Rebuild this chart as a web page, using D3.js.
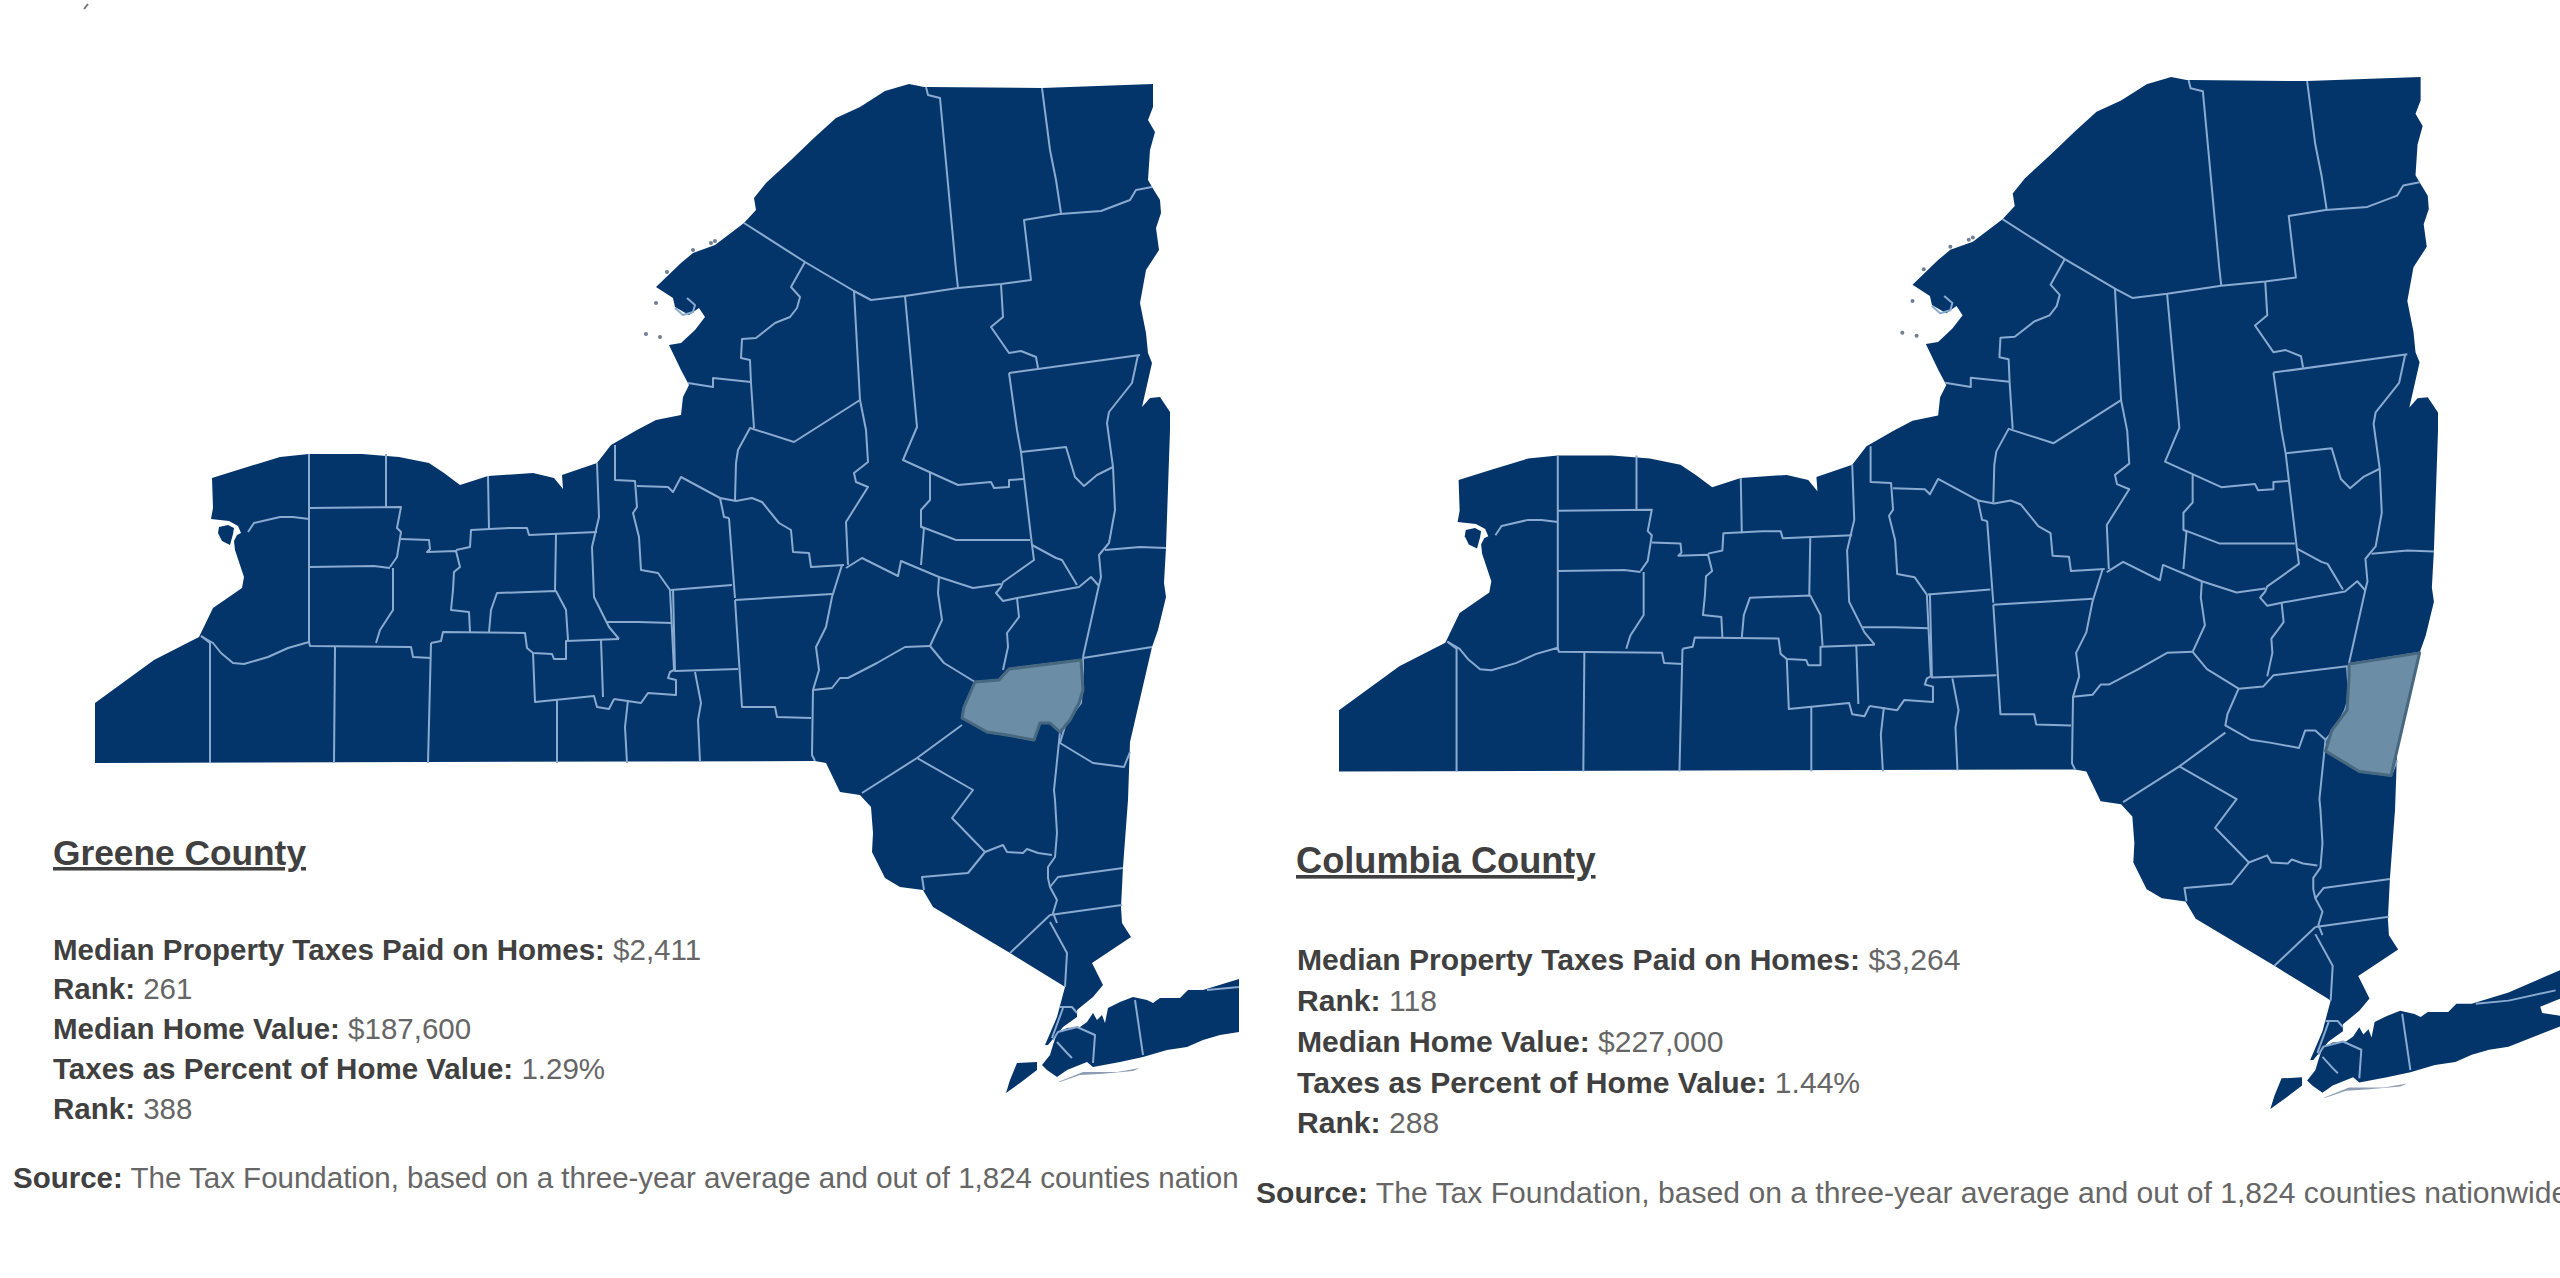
<!DOCTYPE html>
<html>
<head>
<meta charset="utf-8">
<script src="https://cdnjs.cloudflare.com/ajax/libs/d3/7.8.5/d3.min.js"></script>
<style>
    html, body { margin: 0; padding: 0; background: #fff; overflow: hidden; }
    text { font-family: "Liberation Sans", Arial, sans-serif; }
</style>
</head>
<body>
<div id="ny_tax_vis"></div>
<script>
// county names and figures, one entry per panel
const countyNames = ["Greene County", "Columbia County"];
const taxesPaid = ["$2,411", "$3,264"];
const taxRank = ["261", "118"];
const homeValue = ["$187,600", "$227,000"];
const taxPercent = ["1.29%", "1.44%"];
const percentRank = ["388", "288"];
const rowLabels = ["Median Property Taxes Paid on Homes:", "Rank:", "Median Home Value:", "Taxes as Percent of Home Value:", "Rank:"];
const sourceLabel = "Source:";
// the left picture cuts its source line off after "nation"
const sourceTexts = [
    " The Tax Foundation, based on a three-year average and out of 1,824 counties nation",
    " The Tax Foundation, based on a three-year average and out of 1,824 counties nationwide"
];

// traced map geometry, in map units
const mainland = [[656,287],[681,263],[693,253],[715,245],[744,223],[756,210],[754,198],[766,183],[791,160],[815,137],[836,118],[860,107],[885,91],[909,84],[924,87],[928,87],[1042,88],[1153,84],[1153,107],[1148,120],[1155,132],[1150,150],[1148,180],[1152,187],[1160,200],[1161,213],[1156,228],[1159,250],[1146,270],[1140,303],[1146,333],[1148,353],[1152,363],[1142,407],[1150,398],[1160,397],[1170,412],[1170,430],[1166,547],[1164,583],[1166,597],[1158,630],[1152,647],[1130,742],[1128,800],[1123,867],[1121,907],[1122,923],[1131,937],[1092,963],[1103,985],[1093,997],[1077,1010],[1077,1017],[1063,1027],[1048,1045],[1045,1045],[1057,1017],[1065,987],[1062,985],[1010,953],[933,907],[923,890],[900,887],[885,878],[872,852],[873,833],[871,807],[860,795],[840,792],[826,763],[815,761],[95,763],[95,703],[154,660],[199,637],[213,608],[242,588],[244,577],[235,550],[234,541],[237,535],[241,533],[238,526],[229,521],[211,519],[213,508],[212,478],[244,468],[280,457],[309,454],[362,454],[399,457],[429,463],[444,473],[460,485],[488,476],[533,473],[554,478],[563,489],[562,475],[597,463],[611,445],[637,430],[656,420],[681,415],[683,397],[689,385],[681,370],[669,345],[681,343],[695,330],[705,317],[699,308],[689,315],[675,307],[673,298]];
const longIsland = [[1057,1033],[1067,1028],[1080,1027],[1087,1022],[1093,1013],[1097,1020],[1102,1015],[1105,1023],[1108,1008],[1120,1002],[1133,997],[1147,1000],[1153,1003],[1160,998],[1180,998],[1188,990],[1203,990],[1239,979],[1290,957],[1290,985],[1270,993],[1272,999],[1290,1002],[1290,1012],[1239,1032],[1220,1035],[1203,1040],[1187,1047],[1167,1050],[1143,1057],[1120,1062],[1093,1067],[1087,1062],[1067,1070],[1057,1077],[1047,1070],[1042,1065],[1050,1055],[1053,1045]];
const statenIsland = [[1017,1063],[1037,1062],[1037,1070],[1020,1083],[1006,1093],[1010,1080]];
const grandIsland = [[219,527],[228,525],[234,528],[233,534],[230,545],[222,541],[218,533]];
const barrierIsland = [[1058,1082],[1083,1072],[1117,1072],[1140,1068],[1133,1071],[1100,1074],[1080,1075],[1060,1082]];
const riverIslands = [[715,241],[711,243],[693,250],[667,272],[656,303],[646,334],[660,337]];

// the two counties that get picked out, one in each panel
const greeneShape = [[975,682],[999,680],[1009,669],[1081,660],[1083,690],[1079,703],[1070,720],[1060,732],[1050,723],[1040,723],[1034,740],[1007,735],[987,732],[962,718],[964,707]];
const columbiaShape = [[1083,658],[1152,647],[1130,742],[1124,767],[1093,763],[1060,743],[1066,723],[1081,703],[1083,670]];

const countyLines = [
    [[744,223],[805,262],[854,291],[871,300],[905,296],[958,288],[1001,284],[1031,280],[1024,220],[1060,214],[1101,211],[1130,200],[1136,190],[1152,187]],
    [[926,87],[928,95],[940,98],[956,270],[958,288]],
    [[1042,88],[1050,150],[1056,180],[1061,213]],
    [[805,262],[791,287],[800,297],[797,308],[790,317],[775,323],[756,338],[742,339],[741,358],[750,360],[751,383],[754,428]],
    [[688,383],[713,387],[713,378],[751,382]],
    [[860,400],[794,442],[750,428],[738,450],[736,463],[735,500]],
    [[854,291],[860,400],[866,430],[868,462],[854,473],[856,482],[868,487],[846,522],[848,565]],
    [[905,296],[917,427],[903,460],[958,485],[991,482],[994,488],[1009,487],[1009,480],[1024,479]],
    [[1001,284],[1003,317],[991,327],[1009,353],[1021,351],[1036,357],[1038,368]],
    [[1009,373],[1140,355]],
    [[1009,373],[1017,430],[1021,452],[1032,545],[1034,560],[1003,582],[1001,587],[996,593],[1003,601],[1017,598],[1079,587],[1091,577],[1099,586]],
    [[1138,355],[1132,383],[1109,412],[1107,423],[1113,467],[1115,510],[1109,543],[1099,555],[1101,577],[1099,585],[1089,630],[1083,657]],
    [[1021,452],[1066,447],[1075,477],[1084,486],[1097,475],[1113,467]],
    [[930,473],[930,500],[921,510],[921,527],[924,528],[921,565]],
    [[922,527],[956,540],[1030,540]],
    [[846,568],[862,558],[898,576],[901,561],[939,577],[973,588],[1001,584]],
    [[1032,545],[1056,558],[1062,560],[1077,585]],
    [[1105,550],[1140,547],[1166,548]],
    [[1017,598],[1019,617],[1007,633],[1008,647],[1003,670]],
    [[939,577],[938,593],[942,620],[930,646]],
    [[813,690],[832,688],[840,678],[848,678],[877,663],[905,647],[930,646]],
    [[930,646],[944,663],[975,682]],
    [[962,725],[917,758],[862,793]],
    [[917,758],[973,790],[952,818],[985,852],[1003,845],[1007,852],[1023,853],[1027,849],[1038,853],[1052,855]],
    [[985,852],[968,873],[922,877],[924,890]],
    [[1060,732],[1054,790],[1055,800],[1057,833],[1055,857],[1048,867],[1048,878],[1050,887],[1057,900],[1053,913],[1057,923]],
    [[1050,887],[1058,877],[1123,868]],
    [[1050,915],[1122,905]],
    [[1050,915],[1010,953]],
    [[1050,922],[1067,953],[1065,987]],
    [[1060,1007],[1072,1007],[1077,1013]],
    [[1052,1038],[1063,1008]],
    [[1053,1040],[1058,1032],[1077,1027],[1095,1035],[1093,1063]],
    [[1057,1042],[1067,1053],[1072,1058]],
    [[1135,1000],[1143,1055]],
    [[1207,990],[1239,987],[1285,977]],
    [[675,308],[683,315],[693,312],[695,305],[687,298]],
    [[201,636],[210,643],[210,763]],
    [[201,636],[213,643],[221,653],[233,663],[244,664],[268,657],[288,648],[309,642],[310,646],[411,647],[413,657],[431,658]],
    [[335,647],[334,763]],
    [[431,643],[428,763]],
    [[309,454],[309,642]],
    [[248,532],[254,523],[280,517],[293,517],[309,519]],
    [[309,508],[401,507],[397,528],[401,532],[397,557],[390,567]],
    [[386,454],[386,507]],
    [[309,567],[374,566],[390,568]],
    [[393,568],[393,610],[380,630],[376,643]],
    [[401,539],[429,540],[430,549],[427,552],[456,551],[460,567],[454,572],[453,590],[451,610],[469,612],[470,632]],
    [[431,643],[441,641],[443,632],[525,633],[527,648],[533,653],[552,654],[554,659],[566,659],[566,641],[619,639]],
    [[488,476],[489,530]],
    [[456,550],[470,547],[471,530],[509,528],[527,528],[529,535],[597,532]],
    [[489,632],[491,610],[497,593],[556,591],[566,610],[568,640]],
    [[556,534],[555,591]],
    [[597,463],[599,517],[592,547],[594,597],[609,627],[619,639]],
    [[601,640],[603,697]],
    [[533,653],[535,702],[594,696],[597,707],[609,709],[614,699]],
    [[614,699],[641,703],[648,693],[676,695],[676,680],[668,678],[670,672],[674,670]],
    [[557,699],[557,763]],
    [[628,700],[625,727],[627,763]],
    [[615,445],[615,480],[635,481],[637,507],[633,513],[639,537],[641,570],[658,573],[670,590],[674,670]],
    [[637,486],[668,487],[673,492],[681,477],[720,498],[724,517],[729,518]],
    [[720,498],[736,501],[752,498],[762,502],[779,523],[791,530],[793,552],[809,553],[811,567],[844,565]],
    [[729,518],[735,598]],
    [[671,590],[732,585]],
    [[673,589],[675,671],[738,669]],
    [[735,600],[742,707],[775,707],[777,717],[811,718]],
    [[842,565],[832,597],[826,627],[816,647],[819,670],[813,690],[812,755],[815,761]],
    [[695,672],[701,703],[698,720],[700,762]],
    [[735,600],[832,594]],
    [[607,622],[639,622],[672,623]],
    // inland edges of the Greene and Columbia shapes
    [[975,682],[999,680],[1009,669],[1081,660],[1083,690],[1079,703],[1070,720],[1060,732],[1050,723],[1040,723],[1034,740],[1007,735],[987,732],[962,718],[964,707],[975,682]],
    [[1130,752],[1124,767],[1093,763],[1060,743],[1066,723],[1081,703],[1083,670],[1083,658],[1152,647]]
];

// stray scan mark in the top left corner of the picture
const cornerMark = [[84,9],[88,4]];

let svg = d3.select("#ny_tax_vis")
    .append("svg")
    .attr("width", 2560)
    .attr("height", 1278);

// the left picture is cut off where the right one starts
svg.append("defs").append("clipPath")
    .attr("id", "left_clip")
    .append("rect")
    .attr("x", 0)
    .attr("y", 0)
    .attr("width", 1239)
    .attr("height", 1278);

drawPanel(0, greeneShape, {
    clip: "url(#left_clip)",
    xRange: [95, 1170], yRange: [84, 1091],
    titleX: 53, titleY: 865, titleSize: 35.3, rowX: 53, rowSize: 29.5,
    rowY: [960, 999, 1039, 1079, 1119],
    sourceX: 13, sourceY: 1188
});
drawPanel(1, columbiaShape, {
    clip: null,
    xRange: [1339, 2438], yRange: [77, 1107],
    titleX: 1296, titleY: 873, titleSize: 36.2, rowX: 1297, rowSize: 30.1,
    rowY: [970, 1011, 1052, 1093, 1133],
    sourceX: 1256, sourceY: 1203
});

svg.append("path")
    .attr("d", d3.line()(cornerMark))
    .style("stroke", "#777")
    .style("stroke-width", "2px");

function drawPanel(i, shape, layout) {
    let x = d3.scaleLinear().domain([95, 1170]).range(layout.xRange);
    let y = d3.scaleLinear().domain([84, 1091]).range(layout.yRange);

    let ring = d3.line()
        .x(function(d) { return x(d[0]); })
        .y(function(d) { return y(d[1]); });

    let g = svg.append("g").attr("clip-path", layout.clip);

    // land
    g.selectAll(".land")
        .data([mainland, longIsland, statenIsland, grandIsland])
        .enter()
        .append("path")
        .attr("class", "land")
        .attr("d", function(d) { return ring(d) + "Z"; })
        .style("fill", "#03356b");

    g.append("path")
        .attr("d", ring(barrierIsland) + "Z")
        .style("fill", "#8c9db3");

    g.selectAll(".river_island")
        .data(riverIslands)
        .enter()
        .append("circle")
        .attr("class", "river_island")
        .attr("cx", function(d) { return x(d[0]); })
        .attr("cy", function(d) { return y(d[1]); })
        .attr("r", 2)
        .style("fill", "#6f7f95");

    // county borders
    g.selectAll(".county_line")
        .data(countyLines)
        .enter()
        .append("path")
        .attr("class", "county_line")
        .attr("d", ring)
        .style("fill", "none")
        .style("stroke", "#8aaad0")
        .style("stroke-width", "2px")
        .style("stroke-linejoin", "round");

    // selected county
    g.append("path")
        .attr("d", ring(shape) + "Z")
        .style("fill", "#6b8da6")
        .style("stroke", "#47687f")
        .style("stroke-width", "3px")
        .style("stroke-linejoin", "round");

    // county heading
    svg.append("text")
        .attr("x", layout.titleX)
        .attr("y", layout.titleY)
        .attr("font-weight", "bold")
        .style("font-size", layout.titleSize + "px")
        .style("fill", "#404040")
        .style("text-decoration", "underline")
        .text(countyNames[i]);

    // figures under the heading
    let rowValues = [taxesPaid[i], taxRank[i], homeValue[i], taxPercent[i], percentRank[i]];
    let rows = svg.selectAll(".row" + i)
        .data(rowLabels)
        .enter()
        .append("text")
        .attr("class", "row" + i)
        .attr("x", layout.rowX)
        .attr("y", function(d, j) { return layout.rowY[j]; })
        .style("font-size", layout.rowSize + "px");

    rows.append("tspan")
        .attr("font-weight", "bold")
        .style("fill", "#404040")
        .text(function(d) { return d; });
    rows.append("tspan")
        .style("fill", "#666")
        .text(function(d, j) { return " " + rowValues[j]; });

    // source line
    let source = svg.append("text")
        .attr("x", layout.sourceX)
        .attr("y", layout.sourceY)
        .style("font-size", layout.rowSize + "px");
    source.append("tspan")
        .attr("font-weight", "bold")
        .style("fill", "#404040")
        .text(sourceLabel);
    source.append("tspan")
        .style("fill", "#666")
        .text(sourceTexts[i]);
}
</script>
</body>
</html>
